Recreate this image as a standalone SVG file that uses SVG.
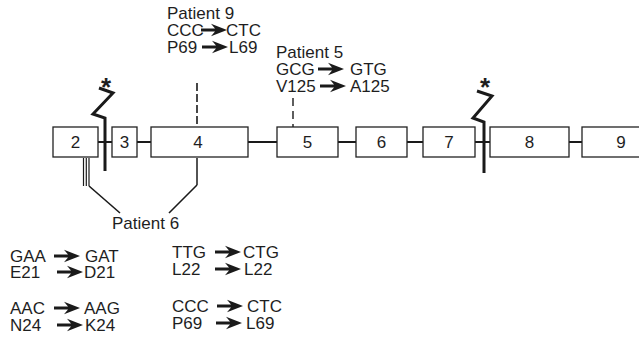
<svg xmlns="http://www.w3.org/2000/svg" width="639" height="338" viewBox="0 0 639 338">
<style>
.box{fill:#fff;stroke:#222;stroke-width:1.3}
.t{font-family:"Liberation Sans",Arial,sans-serif;font-size:17px;fill:#1e1e1e}
.c{text-anchor:middle}
.ast{font-family:"Liberation Sans",Arial,sans-serif;font-size:26px;fill:#1e1e1e;text-anchor:middle}
.ln{stroke:#1a1a1a;fill:none}
.ar{fill:#1a1a1a}
</style>
<defs>
<path id="arr" d="M0,-1.6 H14 L10,-6.2 L26,0 L10,6.2 L14,1.6 H0 Z"/>
</defs>
<rect width="639" height="338" fill="#fff"/>
<g id="connectors">
<line class="ln" x1="98" y1="142" x2="582" y2="142" stroke-width="2.2"/>
<polyline class="ln" points="105,171 105,118 93,114 113,93 99,88" stroke-width="3" stroke-linejoin="miter"/>
<polyline class="ln" points="484,173 484,122 473,118 492,96 477,91" stroke-width="3" stroke-linejoin="miter"/>
<line class="ln" x1="197" y1="83" x2="197" y2="127" stroke-width="1.6" stroke-dasharray="8,3"/>
<line class="ln" x1="293" y1="98" x2="293" y2="127" stroke-width="1.4" stroke-dasharray="8,5"/>
<line class="ln" x1="83.5" y1="158" x2="83.5" y2="186" stroke-width="1.2"/>
<line class="ln" x1="86.3" y1="158" x2="86.3" y2="186" stroke-width="1.2"/>
<line class="ln" x1="89" y1="158" x2="89" y2="186" stroke-width="1.2"/>
<line class="ln" x1="89" y1="186" x2="120" y2="213" stroke-width="1.6"/>
<line class="ln" x1="197" y1="158" x2="197" y2="185" stroke-width="1.5"/>
<line class="ln" x1="197" y1="185" x2="169" y2="213" stroke-width="1.6"/>
</g>
<g id="exon2"><rect class="box" x="53" y="127" width="45" height="30"/><text class="t c" x="75.5" y="148">2</text></g>
<g id="exon3"><rect class="box" x="112" y="127" width="25" height="30"/><text class="t c" x="124.5" y="148">3</text></g>
<g id="exon4"><rect class="box" x="151" y="127" width="97" height="30"/><text class="t c" x="198" y="148">4</text></g>
<g id="exon5"><rect class="box" x="277" y="127" width="61" height="30"/><text class="t c" x="307.5" y="148">5</text></g>
<g id="exon6"><rect class="box" x="356" y="127" width="51" height="30"/><text class="t c" x="381.5" y="148">6</text></g>
<g id="exon7"><rect class="box" x="423" y="127" width="52" height="30"/><text class="t c" x="449" y="148">7</text></g>
<g id="exon8"><rect class="box" x="490" y="127" width="79" height="30"/><text class="t c" x="529.5" y="148">8</text></g>
<g id="exon9"><rect class="box" x="582" y="127" width="70" height="30"/><text class="t c" x="621" y="148">9</text></g>
<g id="breakpoints">
<text class="ast" x="106" y="96" font-weight="bold">*</text>
<text class="ast" x="485" y="96" font-weight="bold">*</text>
</g>
<g id="patient9">
<text class="t" x="167" y="19">Patient 9</text>
<text class="t" x="167" y="36">CCC</text><use href="#arr" class="ar" x="201" y="30"/><text class="t" x="226" y="36">CTC</text>
<text class="t" x="167" y="53">P69</text><use href="#arr" class="ar" x="202" y="47"/><text class="t" x="229" y="53">L69</text>
</g>
<g id="patient5">
<text class="t" x="276" y="58">Patient 5</text>
<text class="t" x="276" y="75">GCG</text><use href="#arr" class="ar" x="318" y="69"/><text class="t" x="350" y="75">GTG</text>
<text class="t" x="276" y="92">V125</text><use href="#arr" class="ar" x="320" y="86"/><text class="t" x="350" y="92">A125</text>
</g>
<g id="patient6">
<text class="t" x="112" y="229">Patient 6</text>
<text class="t" x="10" y="262">GAA</text><use href="#arr" class="ar" x="54" y="256"/><text class="t" x="85" y="262">GAT</text>
<text class="t" x="10" y="278">E21</text><use href="#arr" class="ar" x="57" y="272"/><text class="t" x="84" y="278">D21</text>
<text class="t" x="10" y="314">AAC</text><use href="#arr" class="ar" x="54" y="308"/><text class="t" x="84" y="314">AAG</text>
<text class="t" x="10" y="331">N24</text><use href="#arr" class="ar" x="57" y="325"/><text class="t" x="85" y="331">K24</text>
<text class="t" x="172" y="258">TTG</text><use href="#arr" class="ar" x="215" y="252"/><text class="t" x="243" y="258">CTG</text>
<text class="t" x="172" y="275">L22</text><use href="#arr" class="ar" x="215" y="269"/><text class="t" x="244" y="275">L22</text>
<text class="t" x="172" y="312">CCC</text><use href="#arr" class="ar" x="217" y="306"/><text class="t" x="247" y="312">CTC</text>
<text class="t" x="172" y="329">P69</text><use href="#arr" class="ar" x="216" y="323"/><text class="t" x="246" y="329">L69</text>
</g>
</svg>
